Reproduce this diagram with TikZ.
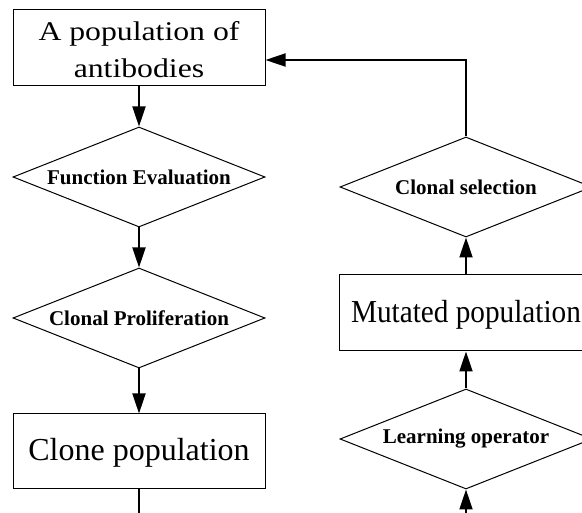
\documentclass[tikz,border=0pt]{standalone}
\usepackage{fontspec}
\setmainfont{Liberation Serif}
\usetikzlibrary{shapes.geometric,arrows.meta}

\tikzset{
  stagebox/.style={draw, line width=1pt, rectangle, inner sep=0pt,
    minimum width=252pt, minimum height=76pt,
    font=\fontsize{32}{37}\selectfont},
  decision/.style={draw, line width=1pt, diamond, inner sep=0pt, aspect=2.52,
    minimum width=252pt, minimum height=100pt,
    font=\fontsize{21}{24}\selectfont\bfseries},
  flow/.style={line width=1.8pt, -{Triangle[length=20pt,width=13pt]}},
  plainflow/.style={line width=1.8pt}
}

\begin{document}
\begin{tikzpicture}[x=1pt, y=-1pt]
  \useasboundingbox (0,0) rectangle (582,513);
  \clip (0,0) rectangle (582,513);

  % left column
  \node[stagebox] (pop) at (139,48)
    {\fontsize{27}{37}\selectfont\raisebox{-4pt}[\height][\depth]{\scalebox{1.175}[1]{\begin{tabular}{@{}c@{}}A population of\\antibodies\end{tabular}}}};
  \node[decision] (fe) at (139,177) {Function Evaluation};
  \node[decision] (cp) at (139,318) {Clonal Proliferation};
  \node[stagebox, minimum height=75pt] (clone) at (139,451.5)
    {\raisebox{-1.5pt}[\height][\depth]{Clone population}};

  % right column
  \node[decision] (sel) at (466,187) {Clonal selection};
  \node[stagebox, minimum width=254pt] (mut) at (466,313)
    {\raisebox{-2pt}[\height][\depth]{\scalebox{0.914}[1]{Mutated population}}};
  \node[decision] (learn) at (466,439) {Learning operator};

  % loose ends leaving the frame
  \coordinate (clonetail) at (139,530);
  \coordinate (learnin) at (466,530);
  \coordinate (bend) at (466,60);

  % connectors
  \draw[flow] (pop.south) -- (fe.north);
  \draw[flow] (fe.south) -- (cp.north);
  \draw[flow] (cp.south) -- (clone.north);
  \draw[plainflow] (clone.south) -- (clonetail);

  \draw[flow] (learnin) -- (learn.south);
  \draw[flow] (learn.north) -- (mut.south);
  \draw[flow] (mut.north) -- (sel.south);
  \draw[flow] (sel.north) -- (bend) -- (bend -| pop.east);
\end{tikzpicture}
\end{document}
